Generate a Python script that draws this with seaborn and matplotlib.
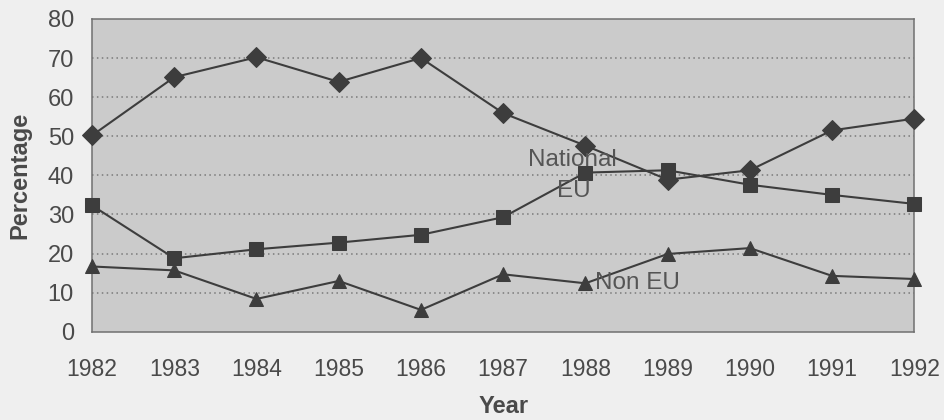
import matplotlib
matplotlib.use("Agg")
import matplotlib.pyplot as plt
import seaborn as sns
import pandas as pd

years = [1982, 1983, 1984, 1985, 1986, 1987, 1988, 1989, 1990, 1991, 1992]
national = [50.2, 65.1, 70.2, 63.9, 70.0, 55.9, 47.6, 38.9, 41.3, 51.5, 54.5]
eu = [32.3, 18.8, 21.1, 22.8, 24.8, 29.3, 40.7, 41.3, 37.6, 35.0, 32.7]
non_eu = [16.7, 15.7, 8.4, 13.0, 5.6, 14.7, 12.4, 19.9, 21.4, 14.3, 13.5]
series_names = ["National", "EU", "Non EU"]
y_ticks = [0, 10, 20, 30, 40, 50, 60, 70, 80]

df = pd.DataFrame({
    "Year": years * 3,
    "Percentage": national + eu + non_eu,
    "Origin": [series_names[0]] * len(years) + [series_names[1]] * len(years)
              + [series_names[2]] * len(years),
})

sns.set_style("white")
plt.rcParams["font.family"] = ["Liberation Sans", "DejaVu Sans"]

fig = plt.figure(figsize=(9.44, 4.2), dpi=100, facecolor="#efefef")
ax = fig.add_axes([0.0975, 0.21, 0.871, 0.745])
ax.set_facecolor("#cbcbcb")

line_col = "#3d3d3d"
sns.lineplot(
    data=df, x="Year", y="Percentage", hue="Origin", style="Origin",
    palette={n: line_col for n in series_names},
    markers={"National": "D", "EU": "s", "Non EU": "^"},
    dashes=False, markersize=10, linewidth=1.5,
    markeredgecolor=line_col, legend=False, ax=ax, zorder=3,
)
for ln in ax.lines:
    ln.set_clip_on(False)

# horizontal dotted grid inside the plot area
for v in y_ticks[1:-1]:
    ax.axhline(v, color="#7a7a7a", linestyle=(0, (1, 2.2)), linewidth=1.1, zorder=1)

ax.set_xlim(1982, 1992)
ax.set_ylim(0, 80)
ax.set_xticks(years)
ax.set_yticks(y_ticks)
ax.tick_params(axis="x", direction="inout", length=12, width=1, color="#666666",
               labelsize=16.5, labelcolor="#4a4a4a", pad=13)
ax.tick_params(axis="y", direction="out", length=5, width=1, color="#666666",
               labelsize=17, labelcolor="#4a4a4a", pad=8)

for side in ["top", "right", "left", "bottom"]:
    ax.spines[side].set_color("#707070")
    ax.spines[side].set_linewidth(1.1)

ax.set_xlabel("Year", fontsize=17, fontweight="bold", color="#4a4a4a", labelpad=10)
ax.set_ylabel("Percentage", fontsize=17, fontweight="bold", color="#4a4a4a", labelpad=12)

# series labels placed beside their lines
ax.text(1987.3, 44.0, "National", fontsize=17.5, color="#555555", va="center", ha="left", zorder=4)
ax.text(1987.65, 36.0, "EU", fontsize=17.5, color="#555555", va="center", ha="left", zorder=4)
ax.text(1988.12, 12.4, "Non EU", fontsize=17.5, color="#555555", va="center", ha="left", zorder=4)

fig.savefig("out.png", dpi=100, facecolor=fig.get_facecolor())
